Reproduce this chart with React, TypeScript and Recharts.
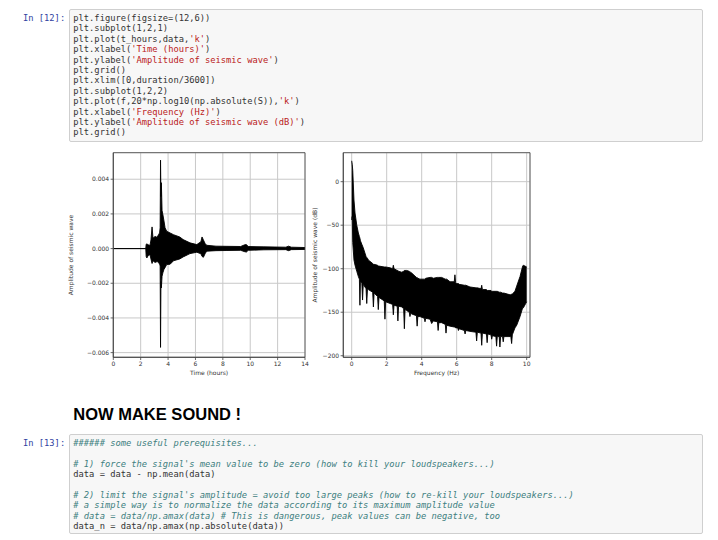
import { ComposedChart, Area, XAxis, YAxis, CartesianGrid, Label, ReferenceArea } from 'recharts';

// seismic trace envelope (hours, upper, lower)
const waveTime = [0, 2.37, 2.4, 2.45, 2.55, 2.68, 2.75, 2.83, 2.9, 3.05, 3.2, 3.3, 3.38, 3.42, 3.45, 3.48, 3.51, 3.56, 3.62, 3.7, 3.78, 3.9, 4.15, 4.4, 4.85, 5.1, 5.6, 6.1, 6.4, 6.48, 6.58, 6.7, 6.82, 7.5, 8.3, 9.3, 9.6, 9.72, 9.85, 11.0, 12.6, 12.8, 13.0, 14.0];
const waveHigh = [0, 0, 0.00025, 0.00027, 0.00022, 0.00018, 0.0005, 0.00125, 0.0006, 0.0007, 0.00065, 0.0008, 0.0009, 0.0012, 0.0051, 0.003, 0.0038, 0.0022, 0.00196, 0.0016, 0.0012, 0.001, 0.0009, 0.0008, 0.00067, 0.00052, 0.00033, 0.00023, 0.0004, 0.00067, 0.0005, 0.0003, 0.00019, 0.00014, 0.00013, 0.00012, 0.00022, 0.00023, 0.00012, 0.0001, 0.00008, 0.00014, 0.00008, 0.00006];
const waveLow = [0, 0, -0.00045, -0.00054, -0.0004, -0.00035, -0.0006, -0.00086, -0.0007, -0.0008, -0.00075, -0.0008, -0.0009, -0.001, -0.0057, -0.0019, -0.00227, -0.0016, -0.0014, -0.0012, -0.0011, -0.00092, -0.0009, -0.0007, -0.0006, -0.00048, -0.00029, -0.00021, -0.0003, -0.00045, -0.0005, -0.0003, -0.00015, -0.00012, -0.00011, -0.0001, -0.00018, -0.0002, -0.0001, -0.00007, -0.00006, -0.00012, -0.00006, -0.00005];
const waveXTicks = [0, 2, 4, 6, 8, 10, 12, 14];
const waveYTicks = [-0.006, -0.004, -0.002, 0, 0.002, 0.004];

// spectrum envelope (Hz, upper dB, lower dB)
const freq = [0, 0.03, 0.06, 0.13, 0.19, 0.29, 0.38, 0.44, 0.47, 0.5, 0.58, 0.62, 0.66, 0.82, 0.86, 0.9, 0.95, 1.2, 1.24, 1.28, 1.48, 1.52, 1.56, 1.86, 1.9, 1.94, 2.2, 2.34, 2.38, 2.42, 2.6, 2.64, 2.68, 2.86, 2.97, 3.01, 3.05, 3.14, 3.29, 3.33, 3.37, 3.43, 3.7, 3.74, 3.78, 3.9, 4.15, 4.19, 4.23, 4.48, 4.57, 4.66, 4.9, 4.94, 4.98, 5.14, 5.35, 5.39, 5.43, 5.62, 5.86, 5.9, 5.94, 6.0, 6.06, 6.1, 6.14, 6.44, 6.48, 6.52, 6.76, 7.1, 7.14, 7.18, 7.39, 7.43, 7.47, 7.7, 7.74, 7.78, 7.96, 8.0, 8.04, 8.24, 8.28, 8.32, 8.43, 8.47, 8.51, 8.62, 8.66, 8.7, 9.05, 9.1, 9.14, 9.18, 9.33, 9.43, 9.62, 9.77, 9.81, 10.0];
const specHigh = [24, 20, 13, -21, -36, -50, -59, -63, -65, -68, -72, -74, -76, -86, -87, -88, -90, -94, -95, -95, -96, -97, -97, -98, -98, -98, -99, -100, -96, -100, -102, -102, -103, -104, -103, -102, -102, -102, -103, -104, -104, -105, -110, -110, -111, -112, -112, -112, -111, -110, -110, -111, -110, -110, -110, -110, -112, -112, -112, -115, -115, -107, -116, -117, -117, -117, -118, -119, -119, -119, -121, -122, -122, -122, -123, -119, -124, -124, -125, -125, -125, -126, -126, -126, -126, -126, -127, -127, -127, -128, -128, -128, -130, -130, -129, -129, -126, -120, -109, -97, -96, -98];
const specLow = [-44, -40, -70, -90, -96, -103, -109, -112, -142, -114, -117, -136, -118, -123, -140, -124, -124, -127, -144, -128, -132, -147, -133, -137, -158, -138, -140, -141, -153, -142, -143, -160, -143, -144, -146, -169, -147, -148, -150, -155, -151, -152, -154, -166, -155, -155, -157, -161, -157, -158, -163, -160, -161, -171, -162, -162, -164, -174, -165, -166, -167, -167, -168, -168, -168, -171, -169, -171, -175, -171, -172, -173, -183, -173, -174, -188, -174, -175, -185, -175, -176, -181, -177, -178, -189, -178, -178, -190, -178, -178, -184, -178, -178, -179, -186, -176, -168, -165, -155, -145, -145, -138];
const specXTicks = [0, 2, 4, 6, 8, 10];
const specYTicks = [-200, -150, -100, -50, 0];

const codeTop = [
  'plt.figure(figsize=(12,6))',
  'plt.subplot(1,2,1)',
  "plt.plot(t_hours,data,'k')",
  "plt.xlabel('Time (hours)')",
  "plt.ylabel('Amplitude of seismic wave')",
  'plt.grid()',
  'plt.xlim([0,duration/3600])',
  'plt.subplot(1,2,2)',
  "plt.plot(f,20*np.log10(np.absolute(S)),'k')",
  "plt.xlabel('Frequency (Hz)')",
  "plt.ylabel('Amplitude of seismic wave (dB)')",
  'plt.grid()',
];

const codeBottom = [
  '###### some useful prerequisites...',
  '',
  "# 1) force the signal's mean value to be zero (how to kill your loudspeakers...)",
  'data = data - np.mean(data)',
  '',
  "# 2) limit the signal's amplitude = avoid too large peaks (how to re-kill your loudspeakers...)",
  '# a simple way is to normalize the data according to its maximum amplitude value',
  '# data = data/np.amax(data) # This is dangerous, peak values can be negative, too',
  'data_n = data/np.amax(np.absolute(data))',
];

const MONO = '"DejaVu Sans Mono", "Liberation Mono", monospace';
const PLOT_FONT = '"DejaVu Sans", sans-serif';
const LINE_H = 10.4;

const minus = (s: string) => s.replace('-', '\u2212');
const fmtAmp = (v: number) => minus(v.toFixed(3));
const fmtDb = (v: number) => minus(String(v));

function CodeLine({ text }: { text: string }) {
  if (text.trim().startsWith('#')) {
    return <div style={{ color: '#408080', fontStyle: 'italic', height: LINE_H }}>{text}</div>;
  }
  const parts = text.split(/('[^']*')/);
  return (
    <div style={{ height: LINE_H }}>
      {parts.map((p, i) => (
        <span key={i} style={{ color: p.startsWith("'") ? '#BA2121' : '#333' }}>{p}</span>
      ))}
    </div>
  );
}

function Cell({ prompt, lines, top, height }: { prompt: string; lines: string[]; top: number; height: number }) {
  return (
    <>
      <div style={{ position: 'absolute', left: 23, top: top + 3.8, fontFamily: MONO, fontSize: 8.75, lineHeight: `${LINE_H}px`, color: '#303F9F', whiteSpace: 'pre' }}>
        {prompt}
      </div>
      <div style={{ position: 'absolute', left: 69.3, top, width: 634, height, boxSizing: 'border-box', background: '#f7f7f7', border: '1px solid #cfcfcf', borderRadius: 2 }}>
        <div style={{ position: 'absolute', left: 3, top: 2.8, fontFamily: MONO, fontSize: 8.75, lineHeight: `${LINE_H}px`, whiteSpace: 'pre' }}>
          {lines.map((l, i) => <CodeLine key={i} text={l} />)}
        </div>
      </div>
    </>
  );
}

interface PanelProps {
  data: { x: number; band: number[] }[];
  width: number;
  rightMargin: number;
  yWidth: number;
  yLabelOffset: number;
  xDomain: number[];
  yDomain: number[];
  xTicks: number[];
  yTicks: number[];
  yFmt: (v: number) => string;
  xLabel: string;
  yLabel: string;
}

const tickStyle = { fontSize: 6, fill: '#333', fontFamily: PLOT_FONT };
const frame = { stroke: '#444', strokeWidth: 0.8 };

function Panel(p: PanelProps) {
  return (
    <ComposedChart width={p.width} height={240} data={p.data} margin={{ top: 7.7, right: p.rightMargin, bottom: 5.7, left: 0 }}>
      <CartesianGrid stroke="#c8c8c8" strokeWidth={1} />
      <XAxis dataKey="x" type="number" domain={p.xDomain} ticks={p.xTicks} allowDataOverflow height={22}
        tick={tickStyle} tickSize={2.7} tickMargin={2} tickLine={frame} axisLine={frame}>
        <Label value={p.xLabel} position="insideBottom" offset={4.3} style={{ fontSize: 6, fill: '#333', fontFamily: PLOT_FONT }} />
      </XAxis>
      <YAxis type="number" domain={p.yDomain} ticks={p.yTicks} allowDataOverflow width={p.yWidth} tickFormatter={p.yFmt}
        tick={tickStyle} tickSize={2.7} tickMargin={1.5} tickLine={frame} axisLine={frame} interval={0}>
        <Label value={p.yLabel} angle={-90} position="insideLeft" offset={p.yLabelOffset}
          style={{ textAnchor: 'middle', fontSize: 6, fill: '#333', fontFamily: PLOT_FONT }} />
      </YAxis>
      <Area dataKey="band" type="linear" stroke="#000" strokeWidth={0.9} fill="#000" fillOpacity={1}
        dot={false} activeDot={false} isAnimationActive={false} />
      <ReferenceArea x1={p.xDomain[0]} x2={p.xDomain[1]} y1={p.yDomain[0]} y2={p.yDomain[1]}
        fill="none" fillOpacity={0} stroke="#444" strokeWidth={0.8} ifOverflow="visible" />
    </ComposedChart>
  );
}

const waveData = waveTime.map((t, i) => ({ x: t, band: [waveLow[i], waveHigh[i]] }));
const specData = freq.map((f, i) => ({ x: f, band: [specLow[i], specHigh[i]] }));

export default function App() {
  return (
    <div style={{ position: 'absolute', left: 0, top: 0, width: 718, height: 540, background: '#fff', overflow: 'hidden' }}>
      <Cell prompt="In [12]:" lines={codeTop} top={9.3} height={132.4} />

      <div style={{ position: 'absolute', left: 60, top: 145 }}>
        <Panel data={waveData} width={260} rightMargin={15} yWidth={53.3} yLabelOffset={11}
          xDomain={[0, 14]} yDomain={[-0.00627, 0.00553]} xTicks={waveXTicks} yTicks={waveYTicks}
          yFmt={fmtAmp} xLabel="Time (hours)" yLabel="Amplitude of seismic wave" />
      </div>
      <div style={{ position: 'absolute', left: 300, top: 145 }}>
        <Panel data={specData} width={240} rightMargin={10} yWidth={43.3} yLabelOffset={15}
          xDomain={[-0.48, 10.19]} yDomain={[-201.8, 33.3]} xTicks={specXTicks} yTicks={specYTicks}
          yFmt={fmtDb} xLabel="Frequency (Hz)" yLabel="Amplitude of seismic wave (dB)" />
      </div>

      <div style={{ position: 'absolute', left: 73.3, top: 406, fontFamily: '"Liberation Sans", Arial, sans-serif', fontWeight: 'bold', fontSize: 16.5, lineHeight: '16.5px', color: '#000', whiteSpace: 'pre' }}>
        NOW MAKE SOUND !
      </div>

      <Cell prompt="In [13]:" lines={codeBottom} top={434.3} height={99.7} />
    </div>
  );
}
